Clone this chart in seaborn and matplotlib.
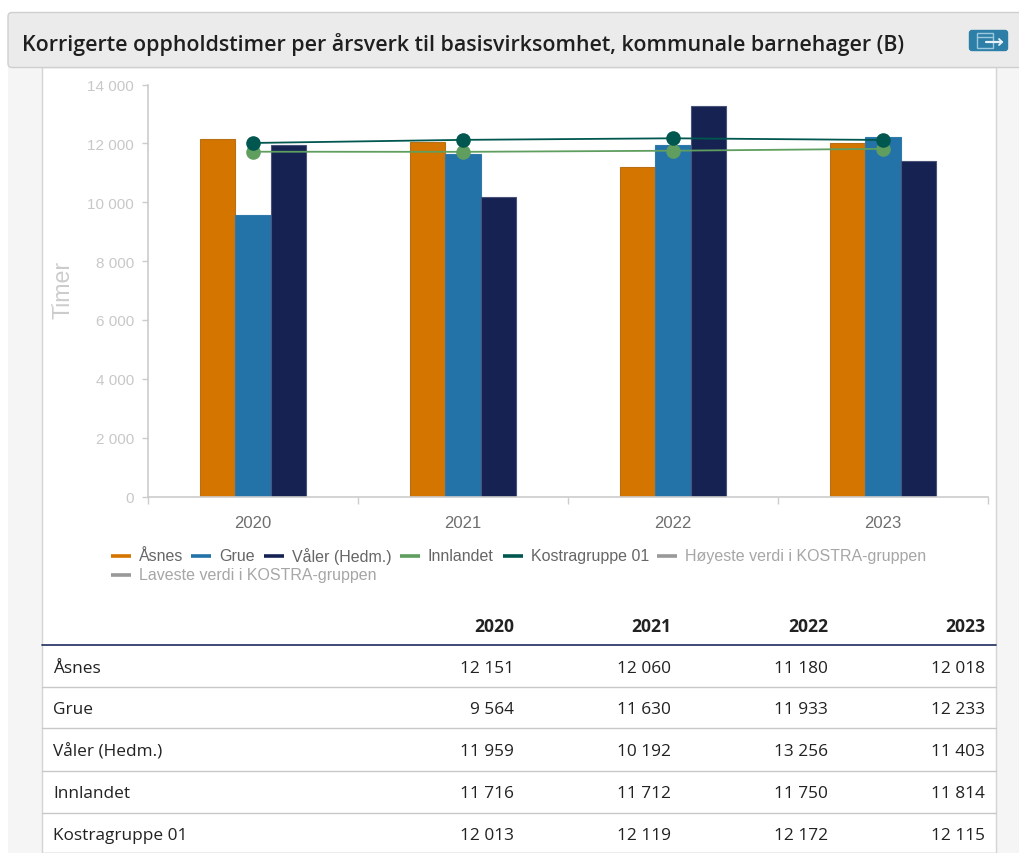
import matplotlib
matplotlib.use('Agg')
from matplotlib import pyplot as plt
from matplotlib.lines import Line2D
from matplotlib.patches import Rectangle, FancyBboxPatch
import pandas as pd
import seaborn as sns

years = ['2020', '2021', '2022', '2023']
asnes = [12151, 12060, 11180, 12018]
grue = [9564, 11630, 11933, 12233]
valer = [11959, 10192, 13256, 11403]
innlandet = [11716, 11712, 11750, 11814]
kostra = [12013, 12119, 12172, 12115]
y_ticks = [0, 2000, 4000, 6000, 8000, 10000, 12000, 14000]

title = 'Korrigerte oppholdstimer per årsverk til basisvirksomhet, kommunale barnehager (B)'
bar_names = ['Åsnes', 'Grue', 'Våler (Hedm.)']
bar_colors = ['#d47500', '#2373a9', '#152252']
bar_edges = ['#b96f14', '#2f7aab', '#4a5478']
line_names = ['Innlandet', 'Kostragruppe 01']
line_colors = ['#5f9e5f', '#00574f']


def fmt(v):
    return f'{v:,}'.replace(',', ' ')


bars = pd.DataFrame({'year': years * 3,
                     'name': sum([[n] * 4 for n in bar_names], []),
                     'value': asnes + grue + valer})
lines = pd.DataFrame({'year': years * 2,
                      'name': sum([[n] * 4 for n in line_names], []),
                      'value': innlandet + kostra})

sns.set_theme(style='white')
plt.rcParams['font.family'] = ['Liberation Sans', 'DejaVu Sans']

W, H = 1019, 854
fig = plt.figure(figsize=(W / 100, H / 100), dpi=100, facecolor='white')

# background layer in pixel coordinates, for the page around the chart
bg = fig.add_axes([0, 0, 1, 1], zorder=0)
bg.set_xlim(0, W)
bg.set_ylim(H, 0)
bg.axis('off')
bg.add_patch(Rectangle((8, 68), 1011, 786, fc='#f5f5f5', ec='none'))
bg.add_patch(Rectangle((42, 68), 954, 786, fc='white', ec='#d4d4d4', lw=1))
bg.add_patch(FancyBboxPatch((8, 13.5), 1030, 55, boxstyle='round,pad=0,rounding_size=4',
                            fc='#ebebeb', ec='#cfcfcf', lw=1))
bg.text(22, 45, title, fontsize=15.38, family='Open Sans', weight=600, color='#1f1f1f',
        va='center', ha='left')

# export icon
bg.add_patch(FancyBboxPatch((969.5, 31.5), 38, 20, boxstyle='round,pad=0,rounding_size=2.5',
                            fc='#2e7fa8', ec='#2e7fa8', lw=1))
bg.add_patch(Rectangle((977, 34), 16, 15, fc='none', ec='#9cc8dd', lw=1))
bg.plot([977, 993], [38, 38], color='#9cc8dd', lw=1)
bg.plot([986, 1002], [43, 43], color='#e8f2f7', lw=1.6)
bg.plot([999, 1002, 999], [40, 43, 46], color='#e8f2f7', lw=1.3)

# chart
ax = fig.add_axes([148 / W, 1 - 497.5 / H, 840 / W, 412 / H], zorder=1)
ax.patch.set_alpha(0)
sns.barplot(data=bars, x='year', y='value', hue='name', hue_order=bar_names,
            palette=bar_colors, width=0.505, gap=0, saturation=1, legend=False, ax=ax)
sns.pointplot(data=lines, x='year', y='value', hue='name', hue_order=line_names,
              palette=line_colors, markers='o', markersize=9.5, linewidth=1.3,
              errorbar=None, dodge=False, legend=False, ax=ax)
for patches, edge in zip(ax.containers, bar_edges):
    for p in patches:
        p.set_edgecolor(edge)
        p.set_linewidth(0.8)

ax.set_xlim(-0.5, 3.5)
ax.set_ylim(0, 14000)
ax.set_yticks(y_ticks)
ax.set_yticklabels([fmt(v) for v in y_ticks])
ax.set_xlabel('')
ax.set_ylabel('Timer', fontsize=16.7, color='#cccccc', labelpad=0)
ax.yaxis.set_label_coords((75 - 148) / 840, 0.503)
for side in ['top', 'right']:
    ax.spines[side].set_visible(False)
for side in ['left', 'bottom']:
    ax.spines[side].set_color('#cccccc')
    ax.spines[side].set_linewidth(1.2)
ax.tick_params(axis='y', labelsize=11, labelcolor='#c8c8c8', color='#cccccc',
               length=4, width=1, left=True, pad=6)
ax.tick_params(axis='x', which='major', labelsize=12, labelcolor='#6e6e6e',
               length=0, pad=13)
ax.set_xticks([-0.5, 0.5, 1.5, 2.5, 3.5], minor=True)
ax.tick_params(axis='x', which='minor', color='#cccccc', length=5, width=1, bottom=True)

# legend, wraps like the original so it is placed by hand
legend_items = [
    ('Åsnes', bar_colors[0], 111, 557, '#666666'),
    ('Grue', bar_colors[1], 191, 557, '#666666'),
    ('Våler (Hedm.)', bar_colors[2], 264, 557, '#666666'),
    ('Innlandet', line_colors[0], 400, 557, '#666666'),
    ('Kostragruppe 01', line_colors[1], 503, 557, '#666666'),
    ('Høyeste verdi i KOSTRA-gruppen', '#999999', 657, 557, '#a6a6a6'),
    ('Laveste verdi i KOSTRA-gruppen', '#999999', 111, 576, '#a6a6a6'),
]
for label, color, x, y, text_color in legend_items:
    bg.add_line(Line2D([x, x + 20], [y - 0.5, y - 0.5], color=color, lw=2.6,
                       solid_capstyle='butt'))
    bg.text(x + 28, y, label, fontsize=11.5, color=text_color, va='center', ha='left')

# table
col_right = [514, 671, 828, 985]
row_y = [669, 710, 752, 794, 836]
sep_y = [687.5, 728.5, 771.5, 813.5, 853.5]
rows = list(zip(bar_names + line_names, [asnes, grue, valer, innlandet, kostra]))
for x, year in zip(col_right, years):
    bg.text(x, 627, year, fontsize=12.6, family='Open Sans', weight='bold', color='#222222',
            va='center', ha='right')
bg.plot([42, 996], [645.5, 645.5], color='#1f2a5c', lw=1.2)
for (name, vals), y, sep in zip(rows, row_y, sep_y):
    bg.text(53, y, name, fontsize=12.4, family='Open Sans', color='#222222', va='center', ha='left')
    for x, v in zip(col_right, vals):
        bg.text(x, y, fmt(v), fontsize=12.4, family='Open Sans', color='#222222',
                va='center', ha='right')
    bg.plot([42, 996], [sep, sep], color='#c8c8c8', lw=1)

fig.savefig('out.png', dpi=100)
